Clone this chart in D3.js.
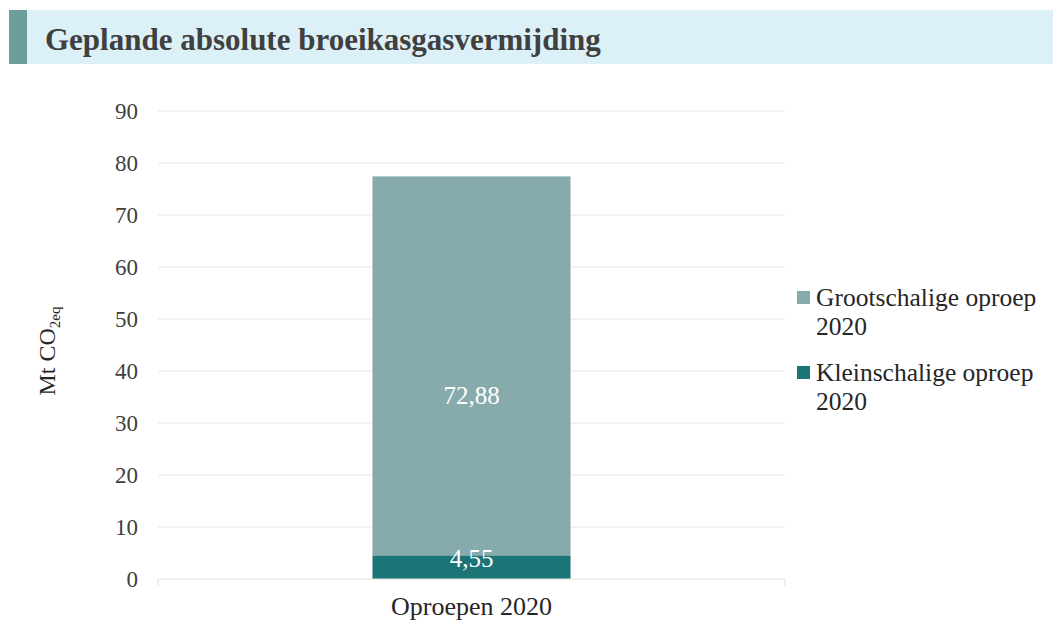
<!DOCTYPE html>
<html>
<head>
<meta charset="utf-8">
<script src="https://cdn.jsdelivr.net/npm/d3@7"></script>
<style>
  body { margin: 0; background: #fff; }
  text { font-family: "Liberation Serif", "Times New Roman", serif; }
</style>
</head>
<body>
<div id="chart"></div>
<script>
// data
var categories = ["Oproepen 2020"];
var seriesNames = ["Kleinschalige oproep 2020", "Grootschalige oproep 2020"];
var kleinschalig = [4.55];
var grootschalig = [72.88];
var yTicks = [0, 10, 20, 30, 40, 50, 60, 70, 80, 90];

var width = 1053, height = 622;
var colors = ["#1b7476", "#87abad"];
var labelShift = [0, 38]; // label offset from segment middle, px

var svg = d3.select("#chart").append("svg")
    .attr("width", width)
    .attr("height", height);

// title band
svg.append("rect").attr("x", 9).attr("y", 10).attr("width", width - 9).attr("height", 54).attr("fill", "#dcf1f7");
svg.append("rect").attr("x", 9).attr("y", 10).attr("width", 18).attr("height", 54).attr("fill", "#6b9d9d");
svg.append("text").attr("x", 45).attr("y", 50)
    .attr("font-size", 31).attr("font-weight", "bold").attr("fill", "#404040")
    .text("Geplande absolute broeikasgasvermijding");

var x = d3.scaleBand().domain(categories).range([158, 785]).paddingInner(0).paddingOuter(1.083);
var y = d3.scaleLinear().domain([0, 90]).range([579, 111]);

// gridlines
svg.selectAll(".grid").data(yTicks.slice(1)).enter().append("line")
    .attr("x1", 158).attr("x2", 785)
    .attr("y1", function(d) { return y(d); })
    .attr("y2", function(d) { return y(d); })
    .attr("stroke", "#e6e6e6").attr("stroke-width", 1);

// y axis labels
var leftAxis = d3.axisLeft(y).tickValues(yTicks).tickSize(0).tickPadding(20);
var gy = svg.append("g").attr("transform", "translate(158,0)").call(leftAxis);
gy.select(".domain").remove();
gy.selectAll("text").attr("font-size", 23).attr("fill", "#404040")
    .attr("font-family", "Liberation Serif, serif");

// stacked bars
var stackData = categories.map(function(c, i) {
  return { cat: c, klein: kleinschalig[i], groot: grootschalig[i] };
});
var stack = d3.stack().keys(["klein", "groot"])(stackData);

svg.selectAll(".layer").data(stack).enter().append("g")
    .attr("fill", function(d, i) { return colors[i]; })
  .selectAll("rect").data(function(d) { return d; }).enter().append("rect")
    .attr("x", function(d) { return x(d.data.cat); })
    .attr("width", x.bandwidth())
    .attr("y", function(d) { return y(d[1]); })
    .attr("height", function(d) { return y(d[0]) - y(d[1]); });

// value labels
var fmt = function(v) { return v.toFixed(2).replace(".", ","); };
stack.forEach(function(layer, li) {
  layer.forEach(function(d) {
    svg.append("text")
      .attr("x", x(d.data.cat) + x.bandwidth() / 2)
      .attr("y", (y(d[0]) + y(d[1])) / 2 + labelShift[li])
      .attr("text-anchor", "middle")
      .attr("font-size", 25).attr("fill", "#ffffff")
      .text(fmt(d[1] - d[0]));
  });
});

// x axis line
svg.append("line").attr("x1", 158).attr("x2", 785).attr("y1", 579).attr("y2", 579)
    .attr("stroke", "#e0e0e0");
[158, 785].forEach(function(px) {
  svg.append("line").attr("x1", px).attr("x2", px).attr("y1", 579).attr("y2", 586).attr("stroke", "#e0e0e0");
});
svg.selectAll(".xlab").data(categories).enter().append("text")
    .attr("x", function(d) { return x(d) + x.bandwidth() / 2; })
    .attr("y", 615).attr("text-anchor", "middle")
    .attr("font-size", 26).attr("fill", "#262626")
    .text(function(d) { return d; });

// y title
var yt = svg.append("text").attr("transform", "translate(55,351) rotate(-90)")
    .attr("text-anchor", "middle").attr("font-size", 24).attr("fill", "#262626");
yt.append("tspan").text("Mt CO");
yt.append("tspan").attr("font-size", 15).attr("dy", 5).text("2eq");

// legend
var legendItems = [
  { name: ["Grootschalige oproep", "2020"], color: colors[1], y: 291 },
  { name: ["Kleinschalige oproep", "2020"], color: colors[0], y: 366 }
];
legendItems.forEach(function(it) {
  svg.append("rect").attr("x", 797).attr("y", it.y).attr("width", 13).attr("height", 13).attr("fill", it.color);
  var t = svg.append("text").attr("x", 816).attr("y", it.y + 15).attr("font-size", 25.5).attr("fill", "#262626");
  t.append("tspan").attr("x", 816).text(it.name[0]);
  t.append("tspan").attr("x", 816).attr("dy", 29).text(it.name[1]);
});
</script>
</body>
</html>
